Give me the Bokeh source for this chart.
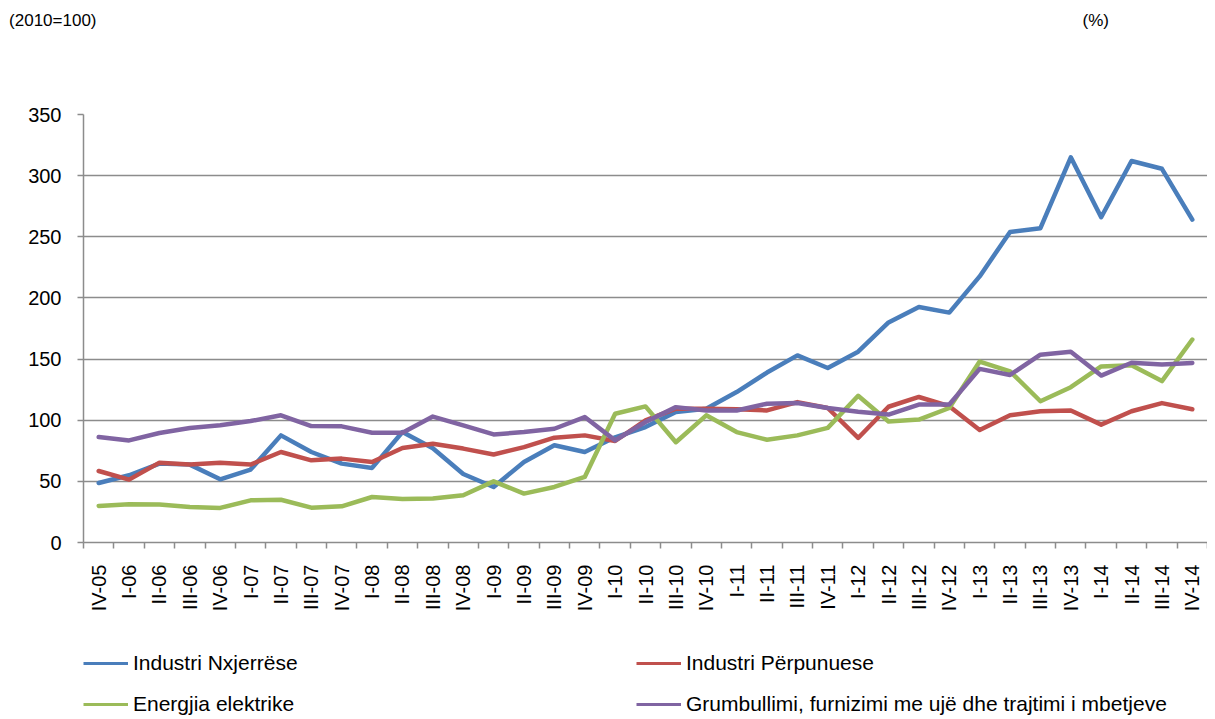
import math
from bokeh.plotting import figure
from bokeh.layouts import column
from bokeh.models import (Range1d, FixedTicker, Legend, LegendItem, Label, ColumnDataSource,
                          LinearAxis)
from bokeh.embed import file_html
from bokeh.resources import INLINE

quarters = ["IV-05", "I-06", "II-06", "III-06", "IV-06", "I-07", "II-07", "III-07", "IV-07",
            "I-08", "II-08", "III-08", "IV-08", "I-09", "II-09", "III-09", "IV-09",
            "I-10", "II-10", "III-10", "IV-10", "I-11", "II-11", "III-11", "IV-11",
            "I-12", "II-12", "III-12", "IV-12", "I-13", "II-13", "III-13", "IV-13",
            "I-14", "II-14", "III-14", "IV-14"]

nxjerrese = [48.7, 55.0, 64.5, 63.7, 51.7, 59.6, 87.6, 74.0, 64.5, 61.0, 90.3,
             77.0, 56.0, 45.4, 65.8, 79.5, 74.0, 86.0, 94.4, 106.7, 109.4, 123.0, 139.0, 153.0,
             142.7, 156.0, 180.0, 192.6, 188.0, 217.6, 254.0, 257.0, 315.0, 266.0, 312.0, 305.6, 264.0]

perpunuese = [58.5, 51.4, 65.3, 63.7, 65.3, 63.7, 74.0, 67.2, 68.6, 65.8, 77.3,
              80.8, 76.8, 72.0, 78.0, 85.7, 87.6, 83.0, 99.9, 109.4, 109.4, 109.0, 108.0, 114.8,
              110.0, 85.5, 111.0, 119.0, 111.4, 92.0, 104.0, 107.3, 108.0, 96.4, 107.3, 114.0, 109.0]

energjia = [29.9, 31.3, 31.0, 29.0, 28.3, 34.5, 35.0, 28.5, 29.6, 37.2, 35.5,
            36.0, 38.6, 50.0, 40.0, 45.4, 53.6, 105.3, 111.3, 82.0, 104.0, 90.3, 84.0, 87.6,
            93.7, 120.0, 99.0, 100.5, 110.0, 148.0, 140.0, 115.5, 127.0, 144.0, 145.0, 132.0, 166.0]

grumbullimi = [86.2, 83.5, 89.5, 93.6, 95.8, 99.3, 104.0, 95.2, 95.0, 89.8, 89.8,
               103.0, 95.8, 88.4, 90.3, 93.0, 102.6, 83.5, 98.5, 110.7, 108.0, 108.0, 113.5, 114.0,
               110.0, 107.0, 104.6, 112.8, 112.8, 142.0, 137.0, 153.6, 156.0, 136.5, 147.0, 145.5, 146.8]

series_names = ["Industri Nxjerrëse", "Industri Përpunuese", "Energjia elektrike",
                "Grumbullimi, furnizimi me ujë dhe trajtimi i mbetjeve"]
series_colors = ["#4A7EBB", "#C0504D", "#9BBB59", "#8064A2"]
y_ticks = [0, 50, 100, 150, 200, 250, 300, 350]
left_note = "(2010=100)"
right_note = "(%)"

FONT = "Liberation Sans"
GREY = "#8c8c8c"
W = 1207

n = len(quarters)
xs = list(range(n))


def blank_fig(h):
    f = figure(width=W, height=h, output_backend="svg", toolbar_location=None,
               x_range=Range1d(0, 1), y_range=Range1d(0, 1),
               x_axis_location=None, y_axis_location=None,
               min_border_left=0, min_border_right=0, min_border_top=0, min_border_bottom=0)
    f.outline_line_color = None
    f.xgrid.visible = False
    f.ygrid.visible = False
    return f


# ---- top notes strip
top = blank_fig(40)
note_axis = LinearAxis(ticker=FixedTicker(ticks=[0.5]), major_label_overrides={0.5: left_note},
                       axis_line_color=None, major_tick_line_color=None,
                       minor_tick_line_color=None, major_tick_out=0, major_tick_in=0,
                       major_label_standoff=-13, major_label_text_font=FONT,
                       major_label_text_font_size="17px", major_label_text_color="black")
top.add_layout(note_axis, "left")
top.add_layout(Label(x=999, y=20, x_units="screen", y_units="screen", text=right_note,
                     text_font=FONT, text_font_size="17px", text_baseline="middle",
                     text_color="black"))

# ---- main chart
p = figure(width=W, height=590, output_backend="svg", toolbar_location=None,
           x_range=Range1d(-0.5, n - 0.5), y_range=Range1d(0, 350),
           min_border_left=83, min_border_right=0, min_border_top=74, min_border_bottom=88)
p.outline_line_color = None

p.xgrid.visible = False
p.ygrid.grid_line_color = GREY
p.ygrid.grid_line_width = 1.5
p.ygrid.ticker = FixedTicker(ticks=y_ticks)

p.yaxis.ticker = FixedTicker(ticks=y_ticks)
p.yaxis.axis_line_color = GREY
p.yaxis.axis_line_width = 1.5
p.yaxis.major_tick_line_color = GREY
p.yaxis.major_tick_line_width = 1.5
p.yaxis.major_tick_out = 6
p.yaxis.major_tick_in = 0
p.yaxis.minor_tick_line_color = None
p.yaxis.major_label_standoff = 16
p.yaxis.major_label_text_font = FONT
p.yaxis.major_label_text_font_size = "20px"
p.yaxis.major_label_text_color = "black"

p.xaxis.ticker = FixedTicker(ticks=xs, minor_ticks=[i - 0.5 for i in range(n + 1)])
p.xaxis.major_label_overrides = {i: q for i, q in enumerate(quarters)}
p.xaxis.major_label_orientation = math.pi / 2
p.xaxis.axis_line_color = GREY
p.xaxis.axis_line_width = 1.5
p.xaxis.major_tick_line_color = None
p.xaxis.major_tick_out = 6
p.xaxis.major_tick_in = 0
p.xaxis.minor_tick_line_color = GREY
p.xaxis.minor_tick_line_width = 1.5
p.xaxis.minor_tick_out = 6
p.xaxis.minor_tick_in = 0
p.xaxis.major_label_standoff = 16
p.xaxis.major_label_text_font = FONT
p.xaxis.major_label_text_font_size = "20px"
p.xaxis.major_label_text_color = "black"

all_series = [nxjerrese, perpunuese, energjia, grumbullimi]
for vals, col in zip(all_series, series_colors):
    src = ColumnDataSource(dict(x=xs, y=vals))
    p.line("x", "y", source=src, line_color=col, line_width=4.5,
           line_join="round", line_cap="round")

# ---- legend strip
bot = blank_fig(87)
items = []
for name, col in zip(series_names, series_colors):
    dummy = bot.line(x=[-10, -9], y=[-10, -10], line_color=col, line_width=3)
    items.append(LegendItem(label=name, renderers=[dummy]))

legend = Legend(items=items, location=(0, 1), orientation="horizontal", ncols=2,
                padding=0, spacing=17, margin=0,
                glyph_width=45, glyph_height=20, label_height=20, label_width=486,
                label_standoff=5, border_line_color=None, background_fill_alpha=0,
                label_text_font=FONT, label_text_font_size="21px", label_text_color="black")
bot.add_layout(legend, "center")

layout = column(top, p, bot, spacing=0)
open("out.html", "w").write(file_html(layout, INLINE))
